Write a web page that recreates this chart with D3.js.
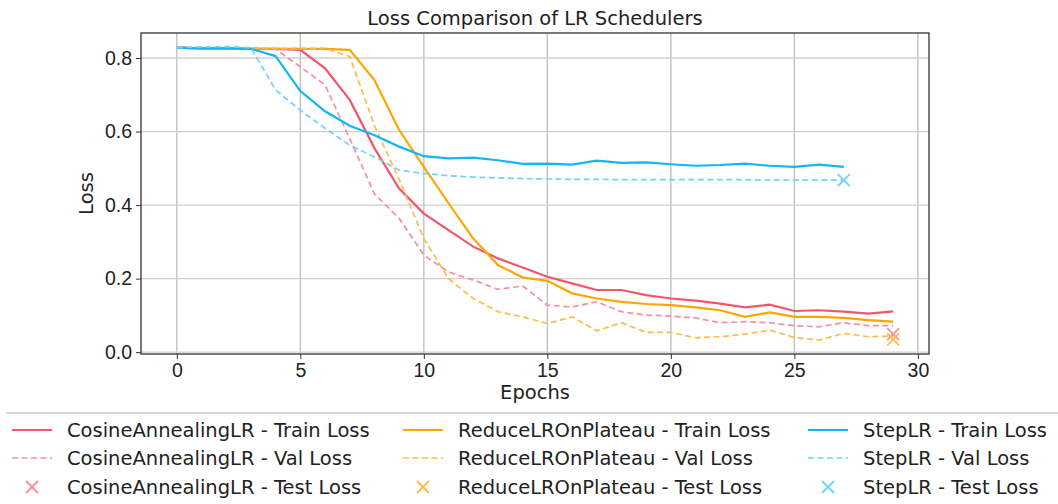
<!DOCTYPE html>
<html>
<head>
<meta charset="utf-8">
<script src="https://cdn.jsdelivr.net/npm/d3@7"></script>
<style>
  body { margin: 0; background: #fff; }
  svg { font-family: "DejaVu Sans", sans-serif; }
</style>
</head>
<body>
<div id="drawing"></div>
<script>
const width = 1058;
const height = 504;

// values, one per epoch
const cosTrain = [0.828,0.826,0.826,0.825,0.825,0.822,0.772,0.686,0.555,0.445,0.377,0.332,0.287,0.255,0.230,0.205,0.187,0.169,0.169,0.155,0.146,0.140,0.132,0.122,0.129,0.112,0.114,0.110,0.105,0.111];
const cosVal = [0.828,0.828,0.828,0.827,0.824,0.776,0.727,0.581,0.430,0.364,0.264,0.218,0.196,0.171,0.180,0.128,0.123,0.137,0.110,0.101,0.098,0.093,0.080,0.083,0.080,0.072,0.069,0.080,0.072,0.072];
const redTrain = [0.828,0.826,0.826,0.825,0.825,0.825,0.825,0.822,0.740,0.604,0.504,0.405,0.309,0.237,0.203,0.194,0.160,0.146,0.137,0.131,0.128,0.122,0.114,0.096,0.108,0.096,0.096,0.093,0.087,0.083];
const redVal = [0.828,0.827,0.827,0.826,0.826,0.826,0.826,0.804,0.616,0.470,0.309,0.200,0.146,0.110,0.096,0.078,0.096,0.058,0.080,0.054,0.054,0.039,0.042,0.049,0.060,0.040,0.033,0.051,0.042,0.044];
const stepTrain = [0.828,0.826,0.826,0.825,0.805,0.710,0.655,0.616,0.590,0.559,0.533,0.527,0.529,0.522,0.512,0.513,0.510,0.521,0.515,0.516,0.511,0.507,0.509,0.513,0.507,0.504,0.510,0.504];
const stepVal = [0.828,0.830,0.831,0.828,0.713,0.658,0.609,0.563,0.531,0.495,0.486,0.480,0.476,0.474,0.472,0.471,0.470,0.470,0.469,0.469,0.469,0.469,0.469,0.469,0.468,0.468,0.468,0.468];
const testLoss = [
  {name: "CosineAnnealingLR", epoch: 29, loss: 0.049},
  {name: "ReduceLROnPlateau", epoch: 29, loss: 0.035},
  {name: "StepLR", epoch: 27, loss: 0.468}
];
const schedulers = ["CosineAnnealingLR", "ReduceLROnPlateau", "StepLR"];
const xTicks = [0, 5, 10, 15, 20, 25, 30];
const yTicks = [0.0, 0.2, 0.4, 0.6, 0.8];

const colors = {
  CosineAnnealingLR: {main: "#f2566c", light: "#f7909c"},
  ReduceLROnPlateau: {main: "#ffa500", light: "#ffbb48"},
  StepLR: {main: "#12b6f2", light: "#6dd5f7"}
};

const series = [
  {name: "CosineAnnealingLR", kind: "Train", values: cosTrain},
  {name: "CosineAnnealingLR", kind: "Val", values: cosVal},
  {name: "ReduceLROnPlateau", kind: "Train", values: redTrain},
  {name: "ReduceLROnPlateau", kind: "Val", values: redVal},
  {name: "StepLR", kind: "Train", values: stepTrain},
  {name: "StepLR", kind: "Val", values: stepVal}
];

const plot = {left: 141, right: 929, top: 33, bottom: 354};
const fontSize = "19.5px";

const svg = d3.select("#drawing").append("svg")
  .attr("width", width)
  .attr("height", height);

const xScale = d3.scaleLinear().domain([-1.45, 30.45]).range([plot.left, plot.right]);
const yScale = d3.scaleLinear().domain([-0.005, 0.868]).range([plot.bottom, plot.top]);

// grid
const grid = svg.append("g");
grid.selectAll(".vgrid").data(xTicks).join("line")
  .attr("x1", d => xScale(d)).attr("x2", d => xScale(d))
  .attr("y1", plot.top).attr("y2", plot.bottom)
  .style("stroke", "#bdbdbd").style("stroke-width", 1.3);
grid.selectAll(".hgrid").data(yTicks).join("line")
  .attr("x1", plot.left).attr("x2", plot.right)
  .attr("y1", d => yScale(d)).attr("y2", d => yScale(d))
  .style("stroke", "#d0d0d0").style("stroke-width", 1.3);

// lines
const lineGen = d3.line()
  .x((d, i) => xScale(i))
  .y(d => yScale(d));

svg.append("g").selectAll("path").data(series).join("path")
  .attr("d", d => lineGen(d.values))
  .style("fill", "none")
  .style("stroke", d => d.kind === "Train" ? colors[d.name].main : colors[d.name].light)
  .style("stroke-width", d => d.kind === "Train" ? 2.2 : 1.7)
  .style("stroke-dasharray", d => d.kind === "Train" ? null : "6,3.5");

// test markers, drawn as an "x"
const s = 6;
const xMark = `M${-s},${-s}L${s},${s}M${-s},${s}L${s},${-s}`;
svg.append("g").selectAll("path").data(testLoss).join("path")
  .attr("d", xMark)
  .attr("transform", d => `translate(${xScale(d.epoch)},${yScale(d.loss)})`)
  .style("fill", "none")
  .style("stroke", d => colors[d.name].light)
  .style("stroke-width", 1.8);

// axes
const xAxis = svg.append("g")
  .attr("transform", `translate(0,${plot.bottom})`)
  .call(d3.axisBottom(xScale).tickValues(xTicks).tickFormat(d3.format("d")).tickSize(5).tickPadding(4));
const yAxis = svg.append("g")
  .attr("transform", `translate(${plot.left},0)`)
  .call(d3.axisLeft(yScale).tickValues(yTicks).tickFormat(d3.format(".1f")).tickSize(5).tickPadding(4));
[xAxis, yAxis].forEach(a => {
  a.select(".domain").remove();
  a.selectAll("text").style("font-size", fontSize).style("fill", "#222");
  a.selectAll("line").style("stroke", "#333");
});

// frame
svg.append("rect")
  .attr("x", plot.left).attr("y", plot.top)
  .attr("width", plot.right - plot.left).attr("height", plot.bottom - plot.top)
  .style("fill", "none").style("stroke", "#333").style("stroke-width", 1.3);

// labels
svg.append("text")
  .attr("x", (plot.left + plot.right) / 2).attr("y", 25)
  .attr("text-anchor", "middle").style("font-size", fontSize).style("fill", "#222")
  .text("Loss Comparison of LR Schedulers");
svg.append("text")
  .attr("x", (plot.left + plot.right) / 2).attr("y", 399)
  .attr("text-anchor", "middle").style("font-size", fontSize).style("fill", "#222")
  .text("Epochs");
svg.append("text")
  .attr("transform", `translate(93,${(plot.top + plot.bottom) / 2}) rotate(-90)`)
  .attr("text-anchor", "middle").style("font-size", fontSize).style("fill", "#222")
  .text("Loss");

// legend
const legend = svg.append("g");
legend.append("line")
  .attr("x1", 6).attr("x2", width).attr("y1", 413).attr("y2", 413)
  .style("stroke", "#d6d6d6").style("stroke-width", 2);

const colX = [12, 403, 808];
const rowY = [430, 458, 487];
const kinds = ["Train", "Val", "Test"];
schedulers.forEach((name, ci) => {
  kinds.forEach((kind, ri) => {
    const x0 = colX[ci], y0 = rowY[ri];
    if (kind === "Test") {
      legend.append("path")
        .attr("d", xMark)
        .attr("transform", `translate(${x0 + 20},${y0})`)
        .style("fill", "none").style("stroke", colors[name].light).style("stroke-width", 1.8);
    } else {
      legend.append("line")
        .attr("x1", x0).attr("x2", x0 + 40).attr("y1", y0).attr("y2", y0)
        .style("stroke", kind === "Train" ? colors[name].main : colors[name].light)
        .style("stroke-width", kind === "Train" ? 2.2 : 1.7)
        .style("stroke-dasharray", kind === "Train" ? null : "6,3.5");
    }
    legend.append("text")
      .attr("x", x0 + 55).attr("y", y0 + 7)
      .style("font-size", fontSize).style("fill", "#222")
      .text(`${name} - ${kind} Loss`);
  });
});
</script>
</body>
</html>
